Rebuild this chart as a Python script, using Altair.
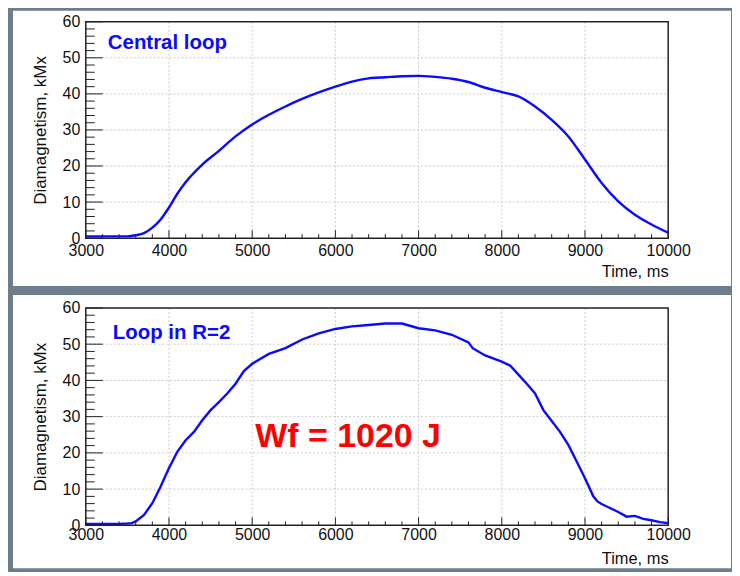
import altair as alt
import pandas as pd

# ---- data ----
t_top = [3000, 3200, 3400, 3500, 3600, 3700, 3800, 3900, 4000, 4100, 4200, 4400, 4600, 4800,
         5000, 5200, 5400, 5600, 5800, 6000, 6200, 6400, 6600, 6800, 7000, 7200, 7400, 7600,
         7800, 8000, 8200, 8400, 8600, 8800, 9000, 9200, 9400, 9600, 9800, 10000]
v_top = [0.5, 0.5, 0.5, 0.5, 0.8, 1.4, 2.9, 5.2, 8.5, 12.3, 15.5, 20.4, 24.2, 28.2,
         31.5, 34.2, 36.5, 38.6, 40.4, 42.0, 43.4, 44.3, 44.6, 44.9, 45.0, 44.7, 44.2, 43.3,
         41.7, 40.5, 39.3, 36.5, 32.8, 28.2, 21.8, 15.3, 10.2, 6.5, 3.8, 1.5]

t_bot = [3000, 3200, 3400, 3500, 3550, 3600, 3700, 3800, 3900, 4000,
         4100, 4200, 4300, 4400, 4500, 4600, 4700, 4800, 4900, 5000,
         5200, 5400, 5600, 5800, 6000, 6200, 6400, 6600, 6800, 7000,
         7200, 7400, 7600, 7650, 7800, 8000, 8100, 8200, 8300, 8400,
         8500, 8600, 8700, 8800, 8900, 9000, 9100, 9150, 9200, 9300,
         9400, 9500, 9600, 9700, 9800, 9900, 10000]
v_bot = [0.4, 0.4, 0.4, 0.5, 0.6, 1.1, 2.9, 6.1, 10.7, 15.8,
         20.3, 23.5, 25.8, 29.0, 31.8, 34.0, 36.4, 39.1, 42.6, 44.6,
         47.3, 48.9, 51.3, 53.0, 54.2, 54.9, 55.3, 55.7, 55.7, 54.4,
         53.8, 52.6, 50.5, 48.9, 46.9, 45.2, 44.1, 41.6, 39.1, 36.4,
         31.8, 28.8, 25.8, 22.2, 17.6, 13.0, 8.0, 6.6, 5.9, 4.8,
         3.7, 2.4, 2.6, 1.8, 1.4, 0.9, 0.6]

x_major = [3000, 4000, 5000, 6000, 7000, 8000, 9000, 10000]
x_minor = [t for t in range(3000, 10001, 200) if t % 1000 != 0]
y_major = [0, 10, 20, 30, 40, 50, 60]
y_minor = [v for v in range(0, 61, 2) if v % 10 != 0]

FONT = "Liberation Sans"
W = 584


def panel(t_vals, v_vals, H, label, label_t, label_v, rect_y0, rect_y1,
          interp, lab_pad, title_pad, extra=None):
    xaxis = alt.Axis(values=x_major, format="d", grid=False, ticks=False, domain=False,
                     labelFont=FONT, labelFontSize=16, labelColor="#111",
                     labelPadding=lab_pad, labelFlush=False, labelOverlap=False,
                     title="Time, ms", titleFont=FONT, titleFontSize=16.5,
                     titleFontWeight="normal", titleColor="#111", titleAnchor="end",
                     titlePadding=title_pad, zindex=1)
    yaxis = alt.Axis(values=y_major, format="d", grid=False, ticks=False, domain=False,
                     labelFont=FONT, labelFontSize=16, labelColor="#111",
                     labelPadding=6, labelOverlap=False, labelFlush=False,
                     title="Diamagnetism, kMx", titleFont=FONT, titleFontSize=17,
                     titleFontWeight="normal", titleColor="#111", titlePadding=13,
                     zindex=1)
    xs = alt.Scale(domain=[3000, 10000], nice=False, zero=False)
    ys = alt.Scale(domain=[0, 60], nice=False)
    X = alt.X("t:Q", scale=xs, axis=xaxis)
    Y = alt.Y("v:Q", scale=ys, axis=yaxis)

    one = pd.DataFrame({"k": [0]})
    bg = alt.Chart(one).mark_rect(color="white").encode(
        x=alt.value(-73), x2=alt.value(647), y=alt.value(rect_y0), y2=alt.value(rect_y1))

    gx = alt.Chart(pd.DataFrame({"t": x_major[1:-1]})).mark_rule(
        color="#cccccc", strokeDash=[2, 2], strokeWidth=1).encode(
        x=X, y=alt.value(0), y2=alt.value(H))
    gy = alt.Chart(pd.DataFrame({"v": y_major[1:-1]})).mark_rule(
        color="#cccccc", strokeDash=[2, 2], strokeWidth=1).encode(
        y=Y, x=alt.value(0), x2=alt.value(W))

    tx_major = alt.Chart(pd.DataFrame({"t": x_major})).mark_rule(color="#222").encode(
        x=X, y=alt.value(H), y2=alt.value(H - 8))
    tx_minor = alt.Chart(pd.DataFrame({"t": x_minor})).mark_rule(color="#222").encode(
        x=X, y=alt.value(H), y2=alt.value(H - 4))
    ty_major = alt.Chart(pd.DataFrame({"v": y_major})).mark_rule(color="#222").encode(
        y=Y, x=alt.value(0), x2=alt.value(17))
    ty_minor = alt.Chart(pd.DataFrame({"v": y_minor})).mark_rule(color="#222").encode(
        y=Y, x=alt.value(0), x2=alt.value(9))

    df = pd.DataFrame({"t": t_vals, "v": v_vals})
    line = alt.Chart(df).mark_line(color="#0a0aff", strokeWidth=2.4,
                                   interpolate=interp).encode(x=X, y=Y)

    frame = alt.Chart(one).mark_rect(filled=False, stroke="#222", strokeWidth=1.5).encode(
        x=alt.value(0), x2=alt.value(W), y=alt.value(0), y2=alt.value(H))

    txt = alt.Chart(one).mark_text(align="left", baseline="alphabetic", font=FONT,
                                   fontSize=20.5, fontWeight="bold", color="#0a0aff").encode(
        x=alt.datum(label_t, type="quantitative", scale=xs, axis=xaxis),
        y=alt.datum(label_v, type="quantitative", scale=ys, axis=yaxis),
        text=alt.value(label))

    layers = [bg, gx, gy, tx_major, tx_minor, ty_major, ty_minor, line, frame, txt]
    if extra is not None:
        et, ev, etext = extra
        layers.append(alt.Chart(one).mark_text(
            align="left", baseline="alphabetic", font=FONT, fontSize=34,
            fontWeight="bold", color="#ff0000").encode(
            x=alt.datum(et, type="quantitative", scale=xs, axis=xaxis),
            y=alt.datum(ev, type="quantitative", scale=ys, axis=yaxis),
            text=alt.value(etext)))
    return alt.layer(*layers).properties(width=W, height=H)


top = panel(t_top, v_top, 217, "Central loop", 3264, 52.5, -11, 265, "monotone",
            lab_pad=4, title_pad=5)
bottom = panel(t_bot, v_bot, 218, "Loop in R=2", 3324, 51.5, -13, 261, "linear",
               lab_pad=1, title_pad=8, extra=(5038, 21.5, "Wf = 1020 J"))

chart = alt.vconcat(top, bottom, spacing=7).properties(
    padding={"left": 4, "top": 1, "right": 0, "bottom": 2}
).configure(background="#6d7d8b").configure_view(stroke="transparent")

chart.save("out.html", embed_options={"renderer": "svg", "actions": False})
